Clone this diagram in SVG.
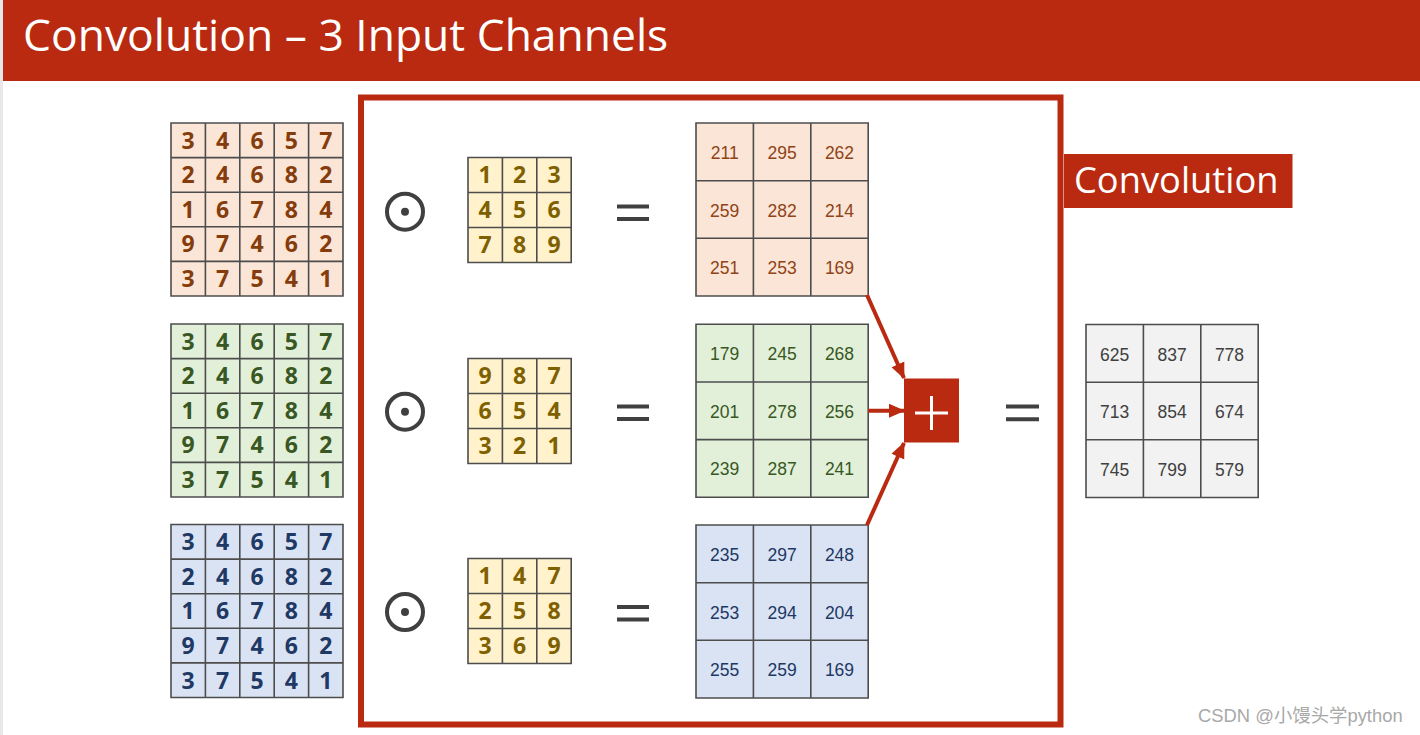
<svg xmlns="http://www.w3.org/2000/svg" xmlns:xlink="http://www.w3.org/1999/xlink" width="1420" height="735" viewBox="0 0 1420 735">
<style>
.grid{fill:none;stroke:#4d4d4d;stroke-width:1.6}
.big{font-family:"Open Sans","Noto Sans",sans-serif;font-weight:700;font-size:23px;text-anchor:middle}
.num{font-family:"Liberation Sans",Arial,sans-serif;font-size:17.5px;text-anchor:middle}
.or{fill:#843c0c}.gr{fill:#385723}.bl{fill:#203864}.yl{fill:#7f6000}.gy{fill:#404040}
.fo{fill:#fbe5d6}.fg{fill:#e2f0d9}.fb{fill:#dae3f3}.fy{fill:#fff2cc}.fz{fill:#f2f2f2}
.op{fill:none;stroke:#404040;stroke-width:4}
.eq{stroke:#404040;stroke-width:4}
.conn{stroke:#b92a10;stroke-width:4;fill:none}
</style>
<defs>
<path id="g5" d="M0,0H172V173H0Z M34.4,0V173 M68.8,0V173 M103.2,0V173 M137.6,0V173 M0,34.6H172 M0,69.2H172 M0,103.8H172 M0,138.4H172"/>
<path id="g3k" d="M0,0H103.2V105H0Z M34.4,0V105 M68.8,0V105 M0,35H103.2 M0,70H103.2"/>
<path id="g3o" d="M0,0H172.2V173H0Z M57.4,0V173 M114.8,0V173 M0,57.7H172.2 M0,115.3H172.2"/>
<marker id="ah" markerUnits="userSpaceOnUse" markerWidth="16" markerHeight="16" viewBox="0 0 16 16" refX="15" refY="8" orient="auto">
<path d="M0,1 L16,8 L0,15 Z" fill="#b92a10"/>
</marker>
</defs>
<rect width="1420" height="735" fill="#ffffff"/>
<rect x="0" y="0" width="3" height="735" fill="#e8e8e8"/>
<g id="header">
<rect x="3" y="0" width="1417" height="81" fill="#b92a10"/>
<text x="23" y="51" font-family="Open Sans,Noto Sans,sans-serif" font-size="44.4" fill="#ffffff">Convolution – 3 Input Channels</text>
</g>
<g id="frame"><rect x="361" y="97.5" width="699.5" height="627" fill="none" stroke="#b92a10" stroke-width="6"/></g>
<g id="label-convolution">
<rect x="1064" y="154" width="228.5" height="54" fill="#b92a10"/>
<text x="1074" y="193" font-family="Open Sans,Noto Sans,sans-serif" font-size="36.3" fill="#ffffff">Convolution</text>
</g>
<g id="input-r" transform="translate(171,123)">
<rect class="fo" width="172" height="173"/><use href="#g5" class="grid"/>
<g class="big or">
<text x="17.2 51.6 86 120.4 154.8" y="25.6">34657</text>
<text x="17.2 51.6 86 120.4 154.8" y="60.2">24682</text>
<text x="17.2 51.6 86 120.4 154.8" y="94.8">16784</text>
<text x="17.2 51.6 86 120.4 154.8" y="129.4">97462</text>
<text x="17.2 51.6 86 120.4 154.8" y="164">37541</text>
</g></g>
<g id="input-g" transform="translate(171,324)">
<rect class="fg" width="172" height="173"/><use href="#g5" class="grid"/>
<g class="big gr">
<text x="17.2 51.6 86 120.4 154.8" y="25.6">34657</text>
<text x="17.2 51.6 86 120.4 154.8" y="60.2">24682</text>
<text x="17.2 51.6 86 120.4 154.8" y="94.8">16784</text>
<text x="17.2 51.6 86 120.4 154.8" y="129.4">97462</text>
<text x="17.2 51.6 86 120.4 154.8" y="164">37541</text>
</g></g>
<g id="input-b" transform="translate(171,524.5)">
<rect class="fb" width="172" height="173"/><use href="#g5" class="grid"/>
<g class="big bl">
<text x="17.2 51.6 86 120.4 154.8" y="25.6">34657</text>
<text x="17.2 51.6 86 120.4 154.8" y="60.2">24682</text>
<text x="17.2 51.6 86 120.4 154.8" y="94.8">16784</text>
<text x="17.2 51.6 86 120.4 154.8" y="129.4">97462</text>
<text x="17.2 51.6 86 120.4 154.8" y="164">37541</text>
</g></g>
<g id="odot-1"><circle cx="405" cy="211.7" r="18" class="op"/><circle cx="405" cy="211.7" r="4" fill="#404040"/></g>
<g id="odot-2"><circle cx="405" cy="411.7" r="18" class="op"/><circle cx="405" cy="411.7" r="4" fill="#404040"/></g>
<g id="odot-3"><circle cx="405" cy="612" r="18" class="op"/><circle cx="405" cy="612" r="4" fill="#404040"/></g>
<g id="kernel-1" transform="translate(468,157.5)">
<rect class="fy" width="103.2" height="105"/><use href="#g3k" class="grid"/>
<g class="big yl">
<text x="17.2 51.6 86" y="25.8">123</text>
<text x="17.2 51.6 86" y="60.8">456</text>
<text x="17.2 51.6 86" y="95.8">789</text>
</g></g>
<g id="kernel-2" transform="translate(468,358.5)">
<rect class="fy" width="103.2" height="105"/><use href="#g3k" class="grid"/>
<g class="big yl">
<text x="17.2 51.6 86" y="25.8">987</text>
<text x="17.2 51.6 86" y="60.8">654</text>
<text x="17.2 51.6 86" y="95.8">321</text>
</g></g>
<g id="kernel-3" transform="translate(468,558.5)">
<rect class="fy" width="103.2" height="105"/><use href="#g3k" class="grid"/>
<g class="big yl">
<text x="17.2 51.6 86" y="25.8">147</text>
<text x="17.2 51.6 86" y="60.8">258</text>
<text x="17.2 51.6 86" y="95.8">369</text>
</g></g>
<g id="equals-1"><line class="eq" x1="617" y1="206.5" x2="649" y2="206.5"/><line class="eq" x1="617" y1="219" x2="649" y2="219"/></g>
<g id="equals-2"><line class="eq" x1="617" y1="406.5" x2="649" y2="406.5"/><line class="eq" x1="617" y1="419" x2="649" y2="419"/></g>
<g id="equals-3"><line class="eq" x1="617" y1="607" x2="649" y2="607"/><line class="eq" x1="617" y1="619.5" x2="649" y2="619.5"/></g>
<g id="out-r" transform="translate(696,123)">
<rect class="fo" width="172.2" height="173"/><use href="#g3o" class="grid"/>
<g class="num" fill="#8f4316">
<text y="36"><tspan x="28.7">211</tspan><tspan x="86.1">295</tspan><tspan x="143.5">262</tspan></text>
<text y="93.6"><tspan x="28.7">259</tspan><tspan x="86.1">282</tspan><tspan x="143.5">214</tspan></text>
<text y="151.2"><tspan x="28.7">251</tspan><tspan x="86.1">253</tspan><tspan x="143.5">169</tspan></text>
</g></g>
<g id="out-g" transform="translate(696,324.3)">
<rect class="fg" width="172.2" height="173"/><use href="#g3o" class="grid"/>
<g class="num gr">
<text y="36"><tspan x="28.7">179</tspan><tspan x="86.1">245</tspan><tspan x="143.5">268</tspan></text>
<text y="93.6"><tspan x="28.7">201</tspan><tspan x="86.1">278</tspan><tspan x="143.5">256</tspan></text>
<text y="151.2"><tspan x="28.7">239</tspan><tspan x="86.1">287</tspan><tspan x="143.5">241</tspan></text>
</g></g>
<g id="out-b" transform="translate(696,525)">
<rect class="fb" width="172.2" height="173"/><use href="#g3o" class="grid"/>
<g class="num bl">
<text y="36"><tspan x="28.7">235</tspan><tspan x="86.1">297</tspan><tspan x="143.5">248</tspan></text>
<text y="93.6"><tspan x="28.7">253</tspan><tspan x="86.1">294</tspan><tspan x="143.5">204</tspan></text>
<text y="151.2"><tspan x="28.7">255</tspan><tspan x="86.1">259</tspan><tspan x="143.5">169</tspan></text>
</g></g>
<g id="connectors">
<line class="conn" x1="867" y1="295" x2="904" y2="378" marker-end="url(#ah)"/>
<line class="conn" x1="868" y1="410.7" x2="904" y2="410.7" marker-end="url(#ah)"/>
<line class="conn" x1="867" y1="525" x2="904" y2="443" marker-end="url(#ah)"/>
</g>
<g id="plus">
<rect x="904" y="378.5" width="55" height="64" fill="#b92a10"/>
<line x1="915" y1="413" x2="948" y2="413" stroke="#ffffff" stroke-width="3"/>
<line x1="931.5" y1="396" x2="931.5" y2="430" stroke="#ffffff" stroke-width="3"/>
</g>
<g id="equals-4"><line class="eq" x1="1006" y1="406.5" x2="1039" y2="406.5"/><line class="eq" x1="1006" y1="419.3" x2="1039" y2="419.3"/></g>
<g id="result" transform="translate(1086,324.5)">
<rect class="fz" width="172.2" height="173"/><use href="#g3o" class="grid"/>
<g class="num gy">
<text y="36"><tspan x="28.7">625</tspan><tspan x="86.1">837</tspan><tspan x="143.5">778</tspan></text>
<text y="93.6"><tspan x="28.7">713</tspan><tspan x="86.1">854</tspan><tspan x="143.5">674</tspan></text>
<text y="151.2"><tspan x="28.7">745</tspan><tspan x="86.1">799</tspan><tspan x="143.5">579</tspan></text>
</g></g>
<text x="1198" y="722" font-family="Liberation Sans,Noto Sans CJK SC,sans-serif" font-size="18.4" fill="#a8a8a8">CSDN @小馒头学python</text>
</svg>
